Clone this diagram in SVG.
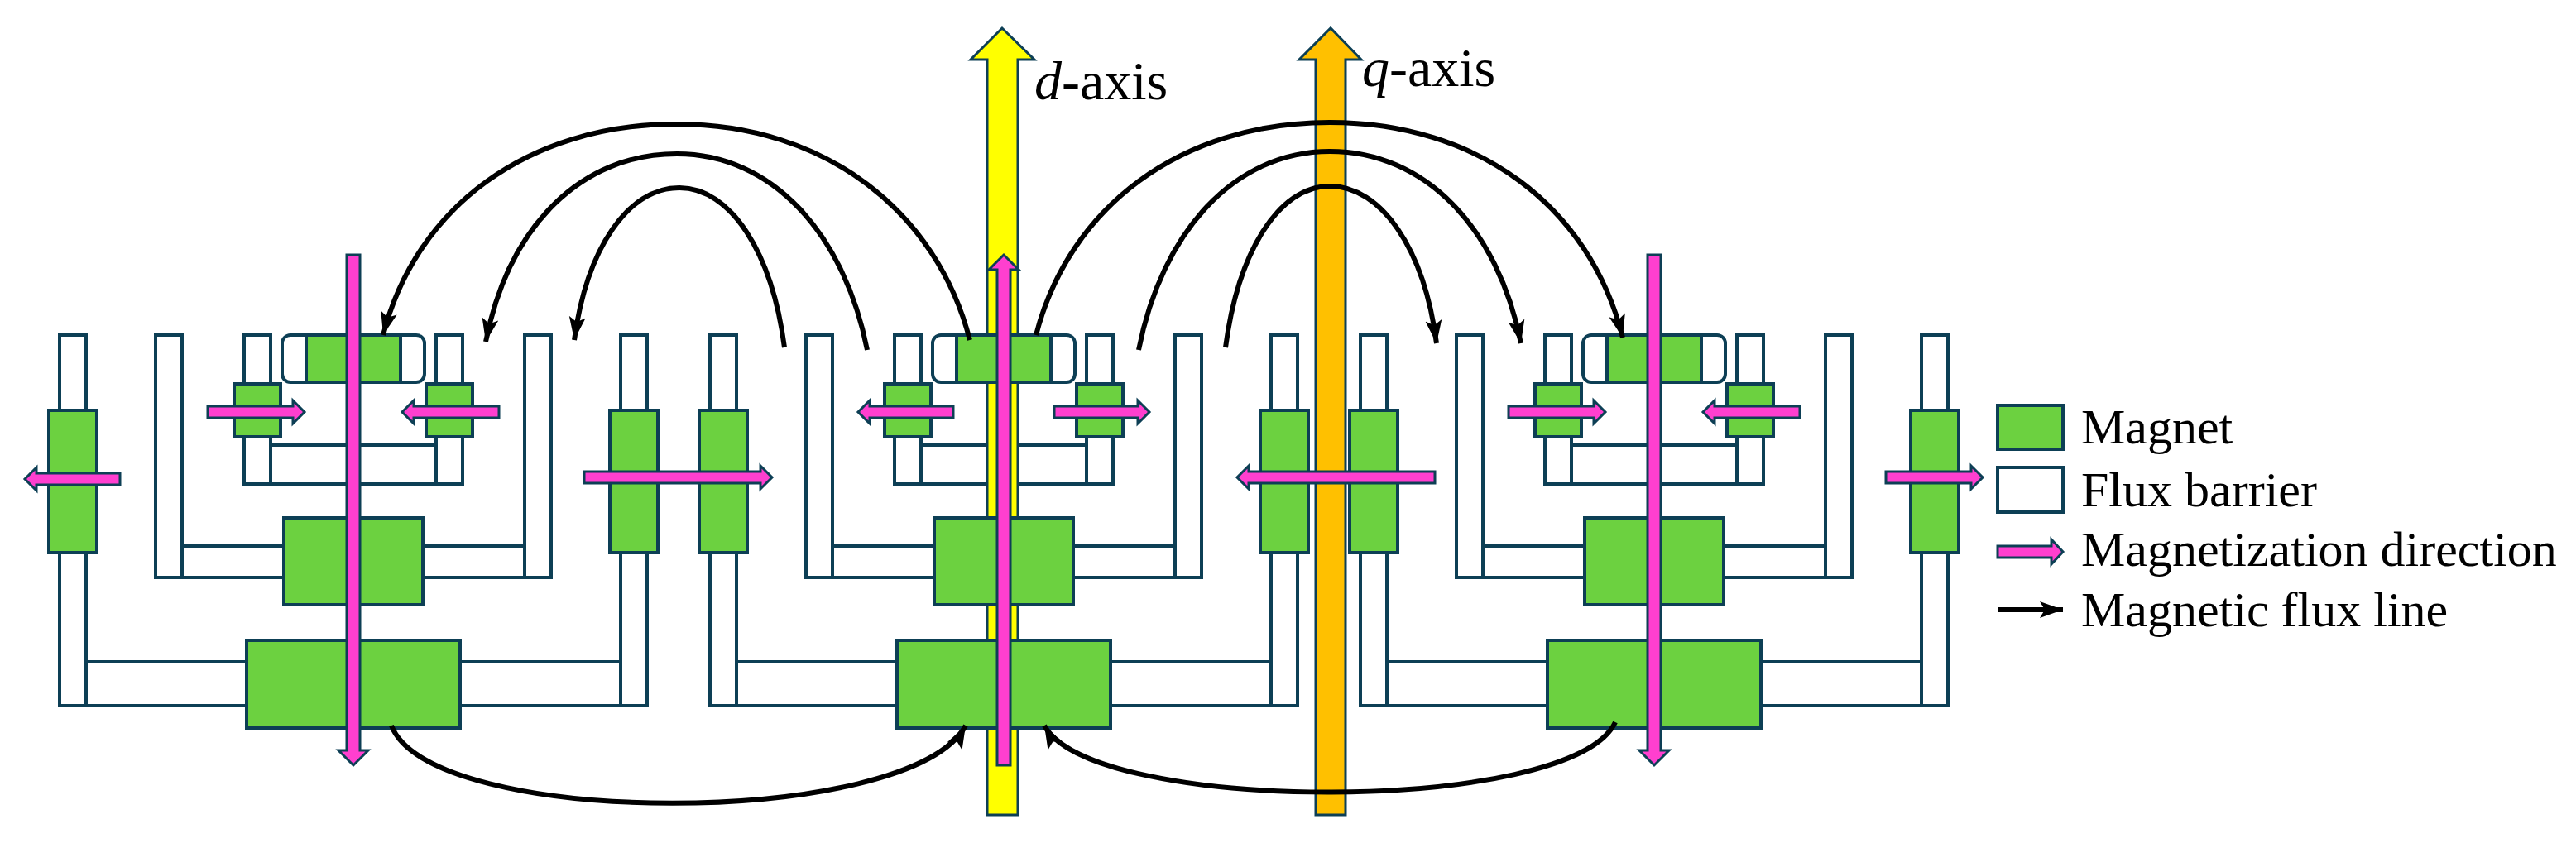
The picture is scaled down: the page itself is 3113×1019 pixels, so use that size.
<svg xmlns="http://www.w3.org/2000/svg" xmlns:xlink="http://www.w3.org/1999/xlink" width="3113" height="1019" viewBox="0 0 3113 1019">
<style>
.fb{fill:#fff;stroke:#0d3f55;stroke-width:4}
.mg{fill:#6cd140;stroke:#0d3f55;stroke-width:4}
.pk{fill:#ff3fcf;stroke:#0d3f55;stroke-width:3;stroke-linejoin:miter}
.fl{fill:none;stroke:#000;stroke-width:6}
.tx{font-family:"Liberation Serif","DejaVu Serif",serif;fill:#000}
</style>
<defs>
<marker id="ah" markerUnits="userSpaceOnUse" markerWidth="32" markerHeight="22" refX="28" refY="10" orient="auto" viewBox="0 0 32 20">
<path d="M0,0 L28,10 L0,20 L6,10 Z" fill="#000"/>
</marker>
<g id="bars">
<rect class="fb" x="-355" y="405" width="32" height="448"/>
<rect class="fb" x="323" y="405" width="32" height="448"/>
<rect class="fb" x="-239" y="405" width="32" height="293"/>
<rect class="fb" x="207" y="405" width="32" height="293"/>
<rect class="fb" x="-132" y="405" width="32" height="180"/>
<rect class="fb" x="100" y="405" width="32" height="180"/>
<rect class="fb" x="-100" y="538" width="200" height="47"/>
<rect class="fb" x="-86" y="405" width="172" height="57" rx="10"/>
<rect class="fb" x="-207" y="660" width="123" height="38"/>
<rect class="fb" x="84" y="660" width="123" height="38"/>
<rect class="fb" x="-323" y="800" width="194" height="53"/>
<rect class="fb" x="129" y="800" width="194" height="53"/>
</g>
<g id="mags">
<rect class="mg" x="-57" y="405" width="114" height="57"/>
<rect class="mg" x="-144" y="464" width="56" height="64"/>
<rect class="mg" x="88" y="464" width="56" height="64"/>
<rect class="mg" x="-84" y="626" width="168" height="105"/>
<rect class="mg" x="-129" y="774" width="258" height="106"/>
<rect class="mg" x="-368" y="496" width="58" height="172"/>
<rect class="mg" x="310" y="496" width="58" height="172"/>
</g>
<polygon id="vdown" class="pk" points="-8,308 8,308 8,907 18,907 0,925 -18,907 -8,907"/>
<polygon id="vup" class="pk" points="-8,925 8,925 8,326 18,326 0,308 -18,326 -8,326"/>
<polygon id="sin" class="pk" points="-176,491 -73,491 -73,484 -59,498 -73,512 -73,505 -176,505"/>
<polygon id="sout" class="pk" points="-61,491 -162,491 -162,484 -176,498 -162,512 -162,505 -61,505"/>
</defs>

<g id="pole-left-barriers"><use xlink:href="#bars" transform="translate(427,0)"/></g>
<g id="pole-center-barriers"><use xlink:href="#bars" transform="translate(1213,0)"/></g>
<g id="pole-right-barriers"><use xlink:href="#bars" transform="translate(1999,0)"/></g>

<g id="d-axis">
<polygon points="1193,985 1230,985 1230,72 1250,72 1211,34 1173,72 1193,72" fill="#ffff00" stroke="#0d3f55" stroke-width="3"/>
<text class="tx" x="1250" y="120" font-size="66"><tspan font-style="italic">d</tspan>-axis</text>
</g>
<g id="q-axis">
<polygon points="1590,985 1626,985 1626,72 1645,72 1608,34 1570,72 1590,72" fill="#ffc000" stroke="#0d3f55" stroke-width="3"/>
<text class="tx" x="1646" y="104" font-size="66"><tspan font-style="italic">q</tspan>-axis</text>
</g>

<g id="pole-left-magnets"><use xlink:href="#mags" transform="translate(427,0)"/></g>
<g id="pole-center-magnets"><use xlink:href="#mags" transform="translate(1213,0)"/></g>
<g id="pole-right-magnets"><use xlink:href="#mags" transform="translate(1999,0)"/></g>

<g id="magnetization">
<use xlink:href="#vdown" transform="translate(427,0)"/>
<use xlink:href="#vup" transform="translate(1213,0)"/>
<use xlink:href="#vdown" transform="translate(1999,0)"/>
<use xlink:href="#sin" transform="translate(427,0)"/>
<use xlink:href="#sin" transform="translate(427,0) scale(-1,1)"/>
<use xlink:href="#sout" transform="translate(1213,0)"/>
<use xlink:href="#sout" transform="translate(1213,0) scale(-1,1)"/>
<use xlink:href="#sin" transform="translate(1999,0)"/>
<use xlink:href="#sin" transform="translate(1999,0) scale(-1,1)"/>
<polygon class="pk" points="145,572 44,572 44,565 30,579 44,593 44,586 145,586"/>
<polygon class="pk" points="706,570 919,570 919,563 933,577 919,591 919,584 706,584"/>
<polygon class="pk" points="1734,570 1509,570 1509,563 1495,577 1509,591 1509,584 1734,584"/>
<polygon class="pk" points="2279,570 2382,570 2382,563 2396,577 2382,591 2382,584 2279,584"/>
</g>

<g id="flux-lines">
<path class="fl" marker-end="url(#ah)" d="M1172,411 C1132,256 998,150 818,150 C638,150 503,250 463,405"/>
<path class="fl" marker-end="url(#ah)" d="M1048,423 C1020,282 933,186 818,186 C703,186 615,272 587,413"/>
<path class="fl" marker-end="url(#ah)" d="M948,420 C933,305 883,227 821,227 C759,227 709,300 694,411"/>
<path class="fl" marker-end="url(#ah)" d="M1252,405 C1292,250 1427,148 1607,148 C1787,148 1921,250 1961,408"/>
<path class="fl" marker-end="url(#ah)" d="M1376,423 C1404,280 1492,183 1607,183 C1722,183 1810,275 1838,415"/>
<path class="fl" marker-end="url(#ah)" d="M1481,420 C1496,305 1545,225 1607,225 C1669,225 1721,300 1736,415"/>
<path class="fl" marker-end="url(#ah)" d="M473,877 C520,1002 1100,1002 1167,877"/>
<path class="fl" marker-end="url(#ah)" d="M1952,873 C1900,985 1320,985 1262,877"/>
</g>

<g id="legend">
<rect class="mg" x="2414" y="490" width="79" height="53"/>
<rect class="fb" x="2414" y="565" width="79" height="54"/>
<polygon class="pk" points="2414,660 2479,660 2479,652 2493,667 2479,682 2479,674 2414,674"/>
<line class="fl" x1="2414" y1="737" x2="2493" y2="737" marker-end="url(#ah)"/>
<text class="tx" x="2515" y="536" font-size="60">Magnet</text>
<text class="tx" x="2515" y="612" font-size="60">Flux barrier</text>
<text class="tx" x="2515" y="684" font-size="60">Magnetization direction</text>
<text class="tx" x="2515" y="757" font-size="60">Magnetic flux line</text>
</g>
</svg>
